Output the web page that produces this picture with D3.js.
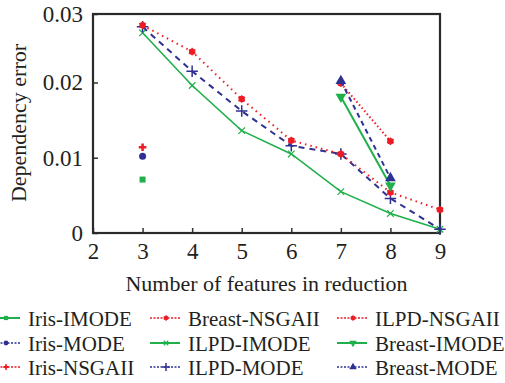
<!DOCTYPE html>
<html>
<head>
<meta charset="utf-8">
<script src="https://cdn.jsdelivr.net/npm/d3@7"></script>
<style>
body { margin: 0; background: #fff; }
text { font-family: "Liberation Serif", "Times New Roman", serif; fill: #231f20; }
</style>
</head>
<body>
<div id="chart"></div>
<script>
// values
var ilpdX = [3, 4, 5, 6, 7, 8, 9];
var ilpdNsga = [0.0276, 0.0241, 0.0178, 0.0123, 0.0105, 0.0054, 0.0031];
var ilpdMode = [0.0274, 0.0215, 0.0162, 0.0116, 0.0105, 0.0046, 0.0005];
var ilpdImode = [0.0266, 0.0196, 0.0136, 0.0105, 0.0055, 0.0026, 0.0005];
var breastX = [7, 8];
var breastNsga = [0.0199, 0.0122];
var breastMode = [0.0202, 0.0073];
var breastImode = [0.0181, 0.0063];
var irisX = [3];
var irisNsga = [0.0114];
var irisMode = [0.0102];
var irisImode = [0.0071];
var xTicks = [2, 3, 4, 5, 6, 7, 8, 9];
var yTicks = [0, 0.01, 0.02, 0.0291];

var green = "#20b04b", blue = "#2e3192", red = "#ed1c24";

function pts(xs, ys) {
    return xs.map(function (x, i) { return { x: x, y: ys[i] }; });
}

// draw order roughly as in the picture
var series = [
    { name: "Iris-IMODE", data: pts(irisX, irisImode), color: green, dash: null, width: 2, marker: "square" },
    { name: "Iris-MODE", data: pts(irisX, irisMode), color: blue, dash: "4,3", width: 2, marker: "circle" },
    { name: "Iris-NSGAII", data: pts(irisX, irisNsga), color: red, dash: "4,2,1,2", width: 1.5, marker: "cross" },
    { name: "Breast-NSGAII", data: pts(breastX, breastNsga), color: red, dash: "1.5,2.5", width: 2, marker: "star" },
    { name: "ILPD-IMODE", data: pts(ilpdX, ilpdImode), color: green, dash: null, width: 1.6, marker: "times" },
    { name: "ILPD-MODE", data: pts(ilpdX, ilpdMode), color: blue, dash: "6,5", width: 2, marker: "plus" },
    { name: "ILPD-NSGAII", data: pts(ilpdX, ilpdNsga), color: red, dash: "1.5,4", width: 2, marker: "star" },
    { name: "Breast-IMODE", data: pts(breastX, breastImode), color: green, dash: null, width: 2, marker: "down" },
    { name: "Breast-MODE", data: pts(breastX, breastMode), color: blue, dash: "5,4", width: 2, marker: "up" }
];

var W = 505, H = 383;
var margin = { left: 93, right: 440, top: 14, bottom: 233 };

var xScale = d3.scaleLinear().domain([2, 9]).range([margin.left, margin.right]);
var yScale = d3.scaleLinear().domain([0, 0.0291]).range([margin.bottom, margin.top]);

var svg = d3.select("#chart").append("svg")
    .attr("width", W)
    .attr("height", H);

svg.append("rect").attr("width", W).attr("height", H).attr("fill", "#fff");

// axes
svg.append("g")
    .attr("class", "x axis")
    .attr("transform", "translate(0," + margin.bottom + ")")
    .call(d3.axisBottom(xScale).tickValues(xTicks).tickSize(-5).tickPadding(10).tickFormat(d3.format("d")))
    .call(function (g) {
        g.select(".domain").remove();
        g.selectAll("line").attr("stroke", "#333").attr("stroke-width", 1.5);
        g.selectAll("text").attr("font-size", 23).attr("fill", "#231f20")
            .style("font-family", "'Liberation Serif', serif");
    });

svg.append("g")
    .attr("class", "y axis")
    .attr("transform", "translate(" + margin.left + ",0)")
    .call(d3.axisLeft(yScale).tickValues(yTicks).tickSize(-5).tickPadding(10)
        .tickFormat(function (d) { return d === 0 ? "0" : d3.format(".2f")(d); }))
    .call(function (g) {
        g.select(".domain").remove();
        g.selectAll("line").attr("stroke", "#333").attr("stroke-width", 1.5);
        g.selectAll("text").attr("font-size", 23).attr("fill", "#231f20")
            .style("font-family", "'Liberation Serif', serif");
    });

// frame
svg.append("rect")
    .attr("x", margin.left).attr("y", margin.top)
    .attr("width", margin.right - margin.left).attr("height", margin.bottom - margin.top)
    .attr("fill", "none")
    .attr("stroke", "#2a2a2a")
    .attr("stroke-width", 2.2);

svg.append("text")
    .attr("x", (margin.left + margin.right) / 2)
    .attr("y", 291)
    .attr("text-anchor", "middle")
    .attr("font-size", 22)
    .text("Number of features in reduction");

svg.append("text")
    .attr("transform", "translate(26," + 123 + ") rotate(-90)")
    .attr("text-anchor", "middle")
    .attr("font-size", 22)
    .text("Dependency error");

function drawMarker(g, type, color, x, y, s) {
    s = s || 1;
    if (type === "square") {
        g.append("rect").attr("x", x - 3 * s).attr("y", y - 3 * s)
            .attr("width", 6 * s).attr("height", 6 * s).attr("fill", color);
    } else if (type === "circle") {
        g.append("circle").attr("cx", x).attr("cy", y).attr("r", 3.5 * s).attr("fill", color);
    } else if (type === "cross") {
        g.append("path").attr("transform", "translate(" + x + "," + y + ")")
            .attr("d", d3.symbol().type(d3.symbolCross).size(32 * s * s)()).attr("fill", color);
    } else if (type === "star") {
        g.append("circle").attr("cx", x).attr("cy", y).attr("r", 3.2 * s).attr("fill", color);
        g.append("path").attr("transform", "translate(" + x + "," + y + ")")
            .attr("d", d3.symbol().type(d3.symbolAsterisk).size(40 * s * s)())
            .attr("fill", "none").attr("stroke", color).attr("stroke-width", 1.2);
    } else if (type === "times") {
        g.append("path").attr("transform", "translate(" + x + "," + y + ")")
            .attr("d", d3.symbol().type(d3.symbolTimes).size(30 * s * s)())
            .attr("fill", "none").attr("stroke", color).attr("stroke-width", 1.2);
    } else if (type === "plus") {
        g.append("path").attr("transform", "translate(" + x + "," + y + ")")
            .attr("d", d3.symbol().type(d3.symbolPlus).size(45 * s * s)())
            .attr("fill", "none").attr("stroke", color).attr("stroke-width", 1.5);
    } else if (type === "up" || type === "down") {
        g.append("path").attr("transform", "translate(" + x + "," + y + ")" + (type === "down" ? " rotate(180)" : ""))
            .attr("d", d3.symbol().type(d3.symbolTriangle).size(50 * s * s)()).attr("fill", color);
    }
}

var line = d3.line()
    .x(function (d) { return xScale(d.x); })
    .y(function (d) { return yScale(d.y); });

var plot = svg.append("g");
series.forEach(function (s) {
    if (s.data.length > 1) {
        plot.append("path")
            .datum(s.data)
            .attr("d", line)
            .attr("fill", "none")
            .attr("stroke", s.color)
            .attr("stroke-width", s.width)
            .attr("stroke-dasharray", s.dash);
    }
    s.data.forEach(function (d) {
        drawMarker(plot, s.marker, s.color, xScale(d.x), yScale(d.y));
    });
});

// legend, 3 columns x 3 rows
var colX = [-10, 150, 337];
var rowY = [318, 343, 367];
var legend = svg.append("g");
series.forEach(function (s, i) {
    var c = Math.floor(i / 3), r = i % 3;
    var x0 = colX[c], y0 = rowY[r];
    legend.append("line")
        .attr("x1", x0).attr("x2", x0 + 30)
        .attr("y1", y0).attr("y2", y0)
        .attr("stroke", s.color)
        .attr("stroke-width", s.dash ? 1.5 : 2)
        .attr("stroke-dasharray", s.dash ? "2,1.5" : null);
    drawMarker(legend, s.marker, s.color, x0 + 16, y0, 0.7);
    legend.append("text")
        .attr("x", x0 + 38)
        .attr("y", y0 + 8)
        .attr("font-size", 21)
        .text(s.name);
});
</script>
</body>
</html>
